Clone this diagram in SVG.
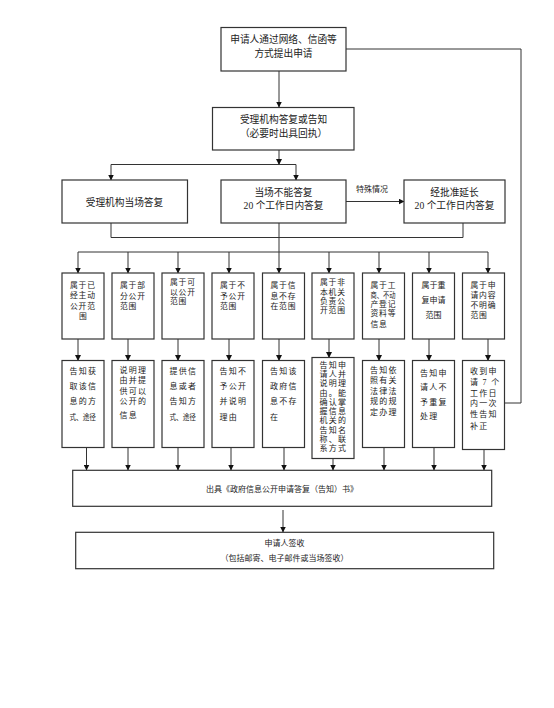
<svg xmlns="http://www.w3.org/2000/svg" width="554" height="708" viewBox="0 0 554 708">
<style>
.box{fill:#fff;stroke:#333;stroke-width:1.2}
.ln{fill:none;stroke:#333;stroke-width:1}
text{font-family:"Liberation Serif","Noto Sans CJK SC",serif;fill:#222}
.m{font-size:9.7px;text-anchor:middle}
.s{font-size:8px;text-anchor:middle}
.c1{font-size:7.8px;letter-spacing:0.8px}
.c2{font-size:8px;letter-spacing:1.3px}
.sq{letter-spacing:0}
</style>
<defs>
<marker id="ah" markerWidth="6" markerHeight="6" refX="5.5" refY="3" orient="auto" markerUnits="userSpaceOnUse">
<path d="M0,0 L6,3 L0,6 Z" fill="#111"/>
</marker>
</defs>
<rect width="554" height="708" fill="#fff"/>
<g id="connectors">
<path class="ln" d="M279,71 V107" marker-end="url(#ah)"/>
<path class="ln" d="M346,49 H521 V403 H505"/>
<path class="ln" d="M279,150 V164.5" marker-end="url(#ah)"/>
<path class="ln" d="M111,164.5 H296"/>
<path class="ln" d="M111,164.5 V180" marker-end="url(#ah)"/>
<path class="ln" d="M296,164.5 V180" marker-end="url(#ah)"/>
<path class="ln" d="M346,201.5 H404" marker-end="url(#ah)"/>
<path class="ln" d="M111,223 V237.5 H463 V223"/>
<path class="ln" d="M279,223 V252"/>
<path class="ln" d="M78,252 H488"/>
<path class="ln" d="M78,252 V273" marker-end="url(#ah)"/>
<path class="ln" d="M128,252 V273" marker-end="url(#ah)"/>
<path class="ln" d="M178,252 V273" marker-end="url(#ah)"/>
<path class="ln" d="M229,252 V273" marker-end="url(#ah)"/>
<path class="ln" d="M279,252 V273" marker-end="url(#ah)"/>
<path class="ln" d="M329,252 V273" marker-end="url(#ah)"/>
<path class="ln" d="M379,252 V273" marker-end="url(#ah)"/>
<path class="ln" d="M429,252 V273" marker-end="url(#ah)"/>
<path class="ln" d="M488,252 V273" marker-end="url(#ah)"/>
<path class="ln" d="M78,339 V360.5" marker-end="url(#ah)"/>
<path class="ln" d="M128,339 V360.5" marker-end="url(#ah)"/>
<path class="ln" d="M178,339 V360.5" marker-end="url(#ah)"/>
<path class="ln" d="M229,339 V360.5" marker-end="url(#ah)"/>
<path class="ln" d="M279,339 V360.5" marker-end="url(#ah)"/>
<path class="ln" d="M329,339 V357.5" marker-end="url(#ah)"/>
<path class="ln" d="M379,339 V360.5" marker-end="url(#ah)"/>
<path class="ln" d="M429,339 V360.5" marker-end="url(#ah)"/>
<path class="ln" d="M488,339 V360.5" marker-end="url(#ah)"/>
<path class="ln" d="M86.5,447.5 V470" marker-end="url(#ah)"/>
<path class="ln" d="M128,447.5 V470" marker-end="url(#ah)"/>
<path class="ln" d="M178,447.5 V470" marker-end="url(#ah)"/>
<path class="ln" d="M231,447.5 V470" marker-end="url(#ah)"/>
<path class="ln" d="M284,447.5 V470" marker-end="url(#ah)"/>
<path class="ln" d="M333,458.5 V470" marker-end="url(#ah)"/>
<path class="ln" d="M384,447.5 V470" marker-end="url(#ah)"/>
<path class="ln" d="M434,447.5 V470" marker-end="url(#ah)"/>
<path class="ln" d="M484,449.5 V470" marker-end="url(#ah)"/>
<path class="ln" d="M283,510 V532" marker-end="url(#ah)"/>
<text class="s" x="372" y="192">特殊情况</text>
</g>
<g id="n-apply">
<rect class="box" x="221" y="27.5" width="125" height="43.5"/>
<text class="m" x="283.5" y="42.7">申请人通过网络、信函等</text>
<text class="m" x="283.5" y="57.4">方式提出申请</text>
</g>
<g id="n-accept">
<rect class="box" x="212.5" y="107.5" width="141.5" height="42.5"/>
<text class="m" x="283.5" y="123.4">受理机构答复或告知</text>
<text class="m" x="283.5" y="137.4">（必要时出具回执）</text>
</g>
<g id="n-onsite">
<rect class="box" x="62" y="180" width="125.5" height="43"/>
<text class="m" x="124.5" y="206.4">受理机构当场答复</text>
</g>
<g id="n-20days">
<rect class="box" x="221" y="180" width="125" height="43"/>
<text class="m" x="283.5" y="195.7">当场不能答复</text>
<text class="m" x="283.5" y="209.1">20 个工作日内答复</text>
</g>
<g id="n-extend">
<rect class="box" x="404" y="180" width="101" height="43"/>
<text class="m" x="454.5" y="195.7">经批准延长</text>
<text class="m" x="454.5" y="209.1">20 个工作日内答复</text>
</g>
<g id="n-a1">
<rect class="box" x="62" y="273" width="42" height="66"/>
<text class="c1" x="70" y="287.8">属于已</text>
<text class="c1" x="70" y="298.3">经主动</text>
<text class="c1" x="70" y="308.8">公开范</text>
<text class="c1" x="79" y="319.3">围</text>
</g>
<g id="n-a2">
<rect class="box" x="112" y="273" width="42" height="66"/>
<text class="c1" x="120" y="287.8">属于部</text>
<text class="c1" x="120" y="298.8">分公开</text>
<text class="c1" x="120" y="308.8">范围</text>
</g>
<g id="n-a3">
<rect class="box" x="162" y="273" width="42" height="66"/>
<text class="c1" x="170" y="285.1">属于可</text>
<text class="c1" x="170" y="294.5">以公开</text>
<text class="c1" x="170" y="303.5">范围</text>
</g>
<g id="n-a4">
<rect class="box" x="212" y="273" width="42" height="66"/>
<text class="c1" x="220" y="287.8">属于不</text>
<text class="c1" x="220" y="298.8">予公开</text>
<text class="c1" x="220" y="308.8">范围</text>
</g>
<g id="n-a5">
<rect class="box" x="262.5" y="273" width="42" height="66"/>
<text class="c1" x="270.5" y="287.8">属于信</text>
<text class="c1" x="270.5" y="298.8">息不存</text>
<text class="c1" x="270.5" y="308.8">在范围</text>
</g>
<g id="n-a6">
<rect class="box" x="312" y="273" width="42" height="66"/>
<text class="c1" x="320" y="285.1">属于非</text>
<text class="c1" x="320" y="294.5">本机关</text>
<text class="c1" x="320" y="303.8">负责公</text>
<text class="c1" x="320" y="312.8">开范围</text>
</g>
<g id="n-a7">
<rect class="box" x="362.5" y="273" width="42" height="66"/>
<text class="c1" x="370.5" y="287.8">属于工</text>
<text class="c1 sq" x="370.5" y="297.8" textLength="25" lengthAdjust="spacingAndGlyphs">商、不动</text>
<text class="c1" x="370.5" y="306.8">产登记</text>
<text class="c1" x="370.5" y="316.1">资料等</text>
<text class="c1" x="370.5" y="326.8">信息</text>
</g>
<g id="n-a8">
<rect class="box" x="412.5" y="273" width="42" height="66"/>
<text class="s" x="433.5" y="287.6" font-size="7.5px">属于重</text>
<text class="s" x="433.5" y="302.6" font-size="7.5px">复申请</text>
<text class="s" x="433.5" y="317.6" font-size="7.5px">范围</text>
</g>
<g id="n-a9">
<rect class="box" x="462.5" y="273" width="42" height="66"/>
<text class="c1" x="470.5" y="287.8">属于申</text>
<text class="c1" x="470.5" y="297.8">请内容</text>
<text class="c1" x="470.5" y="307.8">不明确</text>
<text class="c1" x="470.5" y="317.8">范围</text>
</g>
<g id="n-b1">
<rect class="box" x="62" y="360.5" width="42" height="87"/>
<text class="c2" x="69.5" y="373.8">告知获</text>
<text class="c2" x="69.5" y="388.8">取该信</text>
<text class="c2" x="69.5" y="404.3">息的方</text>
<text class="c2 sq" x="69.5" y="419.8" textLength="26.5" lengthAdjust="spacingAndGlyphs">式、途径</text>
</g>
<g id="n-b2">
<rect class="box" x="112" y="360.5" width="42" height="87"/>
<text class="c2" x="119.5" y="372.8">说明理</text>
<text class="c2" x="119.5" y="383.3">由并提</text>
<text class="c2" x="119.5" y="393.8">供可以</text>
<text class="c2" x="119.5" y="404.3">公开的</text>
<text class="c2" x="119.5" y="417.8">信息</text>
</g>
<g id="n-b3">
<rect class="box" x="162" y="360.5" width="42" height="87"/>
<text class="c2" x="169.5" y="373.8">提供信</text>
<text class="c2" x="169.5" y="388.8">息或者</text>
<text class="c2" x="169.5" y="404.3">告知方</text>
<text class="c2 sq" x="169.5" y="419.8" textLength="26.5" lengthAdjust="spacingAndGlyphs">式、途径</text>
</g>
<g id="n-b4">
<rect class="box" x="212" y="360.5" width="42" height="87"/>
<text class="c2" x="219.5" y="373.8">告知不</text>
<text class="c2" x="219.5" y="388.8">予公开</text>
<text class="c2" x="219.5" y="404.3">并说明</text>
<text class="c2" x="219.5" y="419.8">理由</text>
</g>
<g id="n-b5">
<rect class="box" x="262.5" y="360.5" width="42" height="87"/>
<text class="c2" x="270" y="373.8">告知该</text>
<text class="c2" x="270" y="388.8">政府信</text>
<text class="c2" x="270" y="404.3">息不存</text>
<text class="c2" x="270" y="419.8">在</text>
</g>
<g id="n-b6">
<rect class="box" x="312" y="357.5" width="42" height="101"/>
<text class="c2" x="319.5" y="367.8">告知申</text>
<text class="c2" x="319.5" y="377.1">请人并</text>
<text class="c2" x="319.5" y="386.3">说明理</text>
<text class="c2" x="319.5" y="395.6">由。能</text>
<text class="c2" x="319.5" y="404.8">确认掌</text>
<text class="c2" x="319.5" y="414.1">握信息</text>
<text class="c2" x="319.5" y="423.3">机关的</text>
<text class="c2" x="319.5" y="432.6">告知名</text>
<text class="c2" x="319.5" y="441.8">称、联</text>
<text class="c2" x="319.5" y="451.1">系方式</text>
</g>
<g id="n-b7">
<rect class="box" x="362.5" y="360.5" width="42" height="87"/>
<text class="c2" x="370" y="372.8">告知依</text>
<text class="c2" x="370" y="383.3">照有关</text>
<text class="c2" x="370" y="393.8">法律法</text>
<text class="c2" x="370" y="404.3">规的规</text>
<text class="c2" x="370" y="414.8">定办理</text>
</g>
<g id="n-b8">
<rect class="box" x="412.5" y="360.5" width="42" height="87"/>
<text class="c2" x="420" y="376.1">告知申</text>
<text class="c2" x="420" y="390.3">请人不</text>
<text class="c2" x="420" y="404.5">予重复</text>
<text class="c2" x="420" y="418.8">处理</text>
</g>
<g id="n-b9">
<rect class="box" x="462.5" y="360.5" width="42" height="89"/>
<text class="c2" x="470" y="373.8">收到申</text>
<text class="c2" x="470" y="384.8">请 7 个</text>
<text class="c2" x="470" y="395.8">工作日</text>
<text class="c2" x="470" y="406.3">内一次</text>
<text class="c2" x="470" y="416.8">性告知</text>
<text class="c2" x="470" y="428.8">补正</text>
</g>
<g id="n-issue">
<rect class="box" x="72.7" y="470.3" width="419" height="36"/>
<text class="s" x="282" y="492.2">出具《政府信息公开申请答复（告知）书》</text>
</g>
<g id="n-receive">
<rect class="box" x="75.7" y="532.3" width="418" height="36.4"/>
<text class="s" x="284.5" y="546.1">申请人签收</text>
<text class="s" x="284.5" y="561.1">（包括邮寄、电子邮件或当场签收）</text>
</g>
</svg>
